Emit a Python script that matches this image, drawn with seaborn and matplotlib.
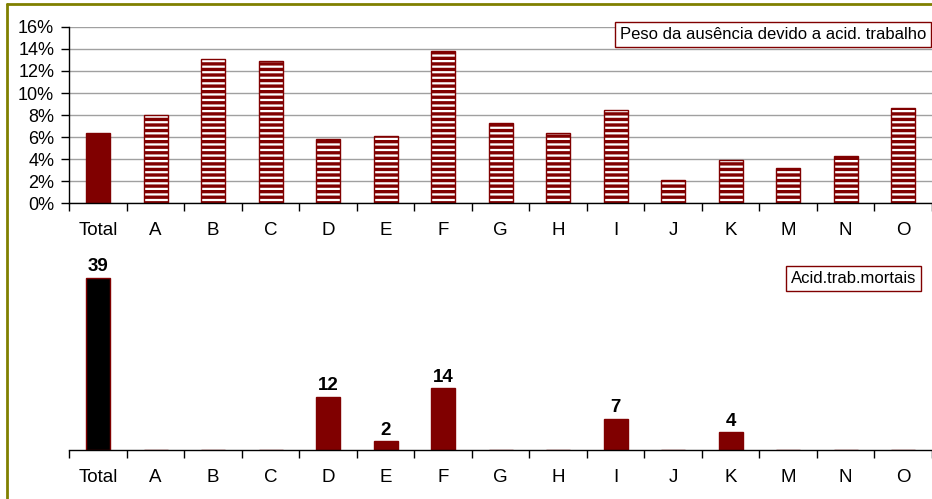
import pandas as pd
import matplotlib.pyplot as plt
import seaborn as sns
from matplotlib.lines import Line2D
from matplotlib.ticker import PercentFormatter, FixedLocator

categories = ["Total", "A", "B", "C", "D", "E", "F", "G", "H", "I", "J", "K", "M", "N", "O"]
peso_ausencia = [6.4, 8.0, 13.1, 12.9, 5.8, 6.1, 13.8, 7.3, 6.4, 8.5, 2.1, 3.9, 3.2, 4.3, 8.6]
acid_mortais = [39, 0, 0, 0, 12, 2, 14, 0, 0, 7, 0, 4, 0, 0, 0]

DARK_RED = "#800000"
OLIVE = "#808000"

sns.set_style("white")
plt.rcParams["font.family"] = ["Liberation Sans", "DejaVu Sans"]
plt.rcParams["hatch.linewidth"] = 2.4
plt.rcParams["text.color"] = "black"
plt.rcParams["xtick.color"] = "black"
plt.rcParams["ytick.color"] = "black"

df = pd.DataFrame({"cat": categories, "peso": peso_ausencia, "mortos": acid_mortais})

fig = plt.figure(figsize=(9.32, 4.99), dpi=100)


def category_ticks(ax):
    # tick marks between categories, labels centred under the bars
    n = len(categories)
    ax.set_xlim(-0.5, n - 0.5)
    ax.xaxis.set_major_locator(FixedLocator([i - 0.5 for i in range(n + 1)]))
    ax.set_xticklabels([])
    ax.xaxis.set_minor_locator(FixedLocator(range(n)))
    ax.set_xticklabels(categories, minor=True)
    ax.tick_params(axis="x", which="major", direction="out", length=6, width=1, bottom=True)
    ax.tick_params(axis="x", which="minor", length=0, labelsize=13.5, pad=13.5)
    ax.set_xlabel("")
    ax.set_ylabel("")


# --- top chart: weight of absence due to work accidents
ax1 = fig.add_axes([0.0745, 0.593, 0.9255, 0.353])
top_colors = ["white"] * len(categories)
top_colors[0] = DARK_RED
sns.barplot(data=df, x="cat", y="peso", hue="cat", palette=top_colors, order=categories,
            width=0.42, saturation=1, edgecolor=DARK_RED, linewidth=1.0, legend=False, ax=ax1)
for i, bar in enumerate(ax1.patches):
    if i > 0:
        bar.set_hatch("---")
        bar.set_edgecolor(DARK_RED)
ax1.set_ylim(0, 16)
ax1.set_yticks(range(0, 17, 2))
ax1.yaxis.set_major_formatter(PercentFormatter(decimals=0))
ax1.yaxis.grid(True, color="#a0a0a0", linewidth=1.0)
ax1.set_axisbelow(True)
for s in ["top", "right"]:
    ax1.spines[s].set_visible(False)
for s in ["left", "bottom"]:
    ax1.spines[s].set_color("black")
    ax1.spines[s].set_linewidth(1.0)
category_ticks(ax1)
ax1.tick_params(axis="y", direction="out", length=6, width=1, left=True, labelsize=13, pad=5)
ax1.text(0.9935, 0.955, "Peso da ausência devido a acid. trabalho", transform=ax1.transAxes,
         ha="right", va="center", fontsize=12,
         bbox=dict(boxstyle="square,pad=0.3", facecolor="white", edgecolor=DARK_RED, linewidth=1))

# --- bottom chart: fatal work accidents
ax2 = fig.add_axes([0.0745, 0.098, 0.9255, 0.40])
bot_colors = [DARK_RED] * len(categories)
bot_colors[0] = "black"
sns.barplot(data=df, x="cat", y="mortos", hue="cat", palette=bot_colors, order=categories,
            width=0.42, saturation=1, edgecolor=DARK_RED, linewidth=1.0, legend=False, ax=ax2)
ax2.set_ylim(0, 45.3)
ax2.set_yticks([])
for s in ["top", "right", "left"]:
    ax2.spines[s].set_visible(False)
ax2.spines["bottom"].set_color("black")
ax2.spines["bottom"].set_linewidth(1.0)
category_ticks(ax2)
for bar, val in zip(ax2.patches, acid_mortais):
    if val > 0:
        ax2.annotate(str(val), (bar.get_x() + bar.get_width() / 2, bar.get_height()),
                     xytext=(0, 2), textcoords="offset points", ha="center", va="bottom",
                     fontsize=13.5, fontweight="bold")
ax2.text(0.982, 0.86, "Acid.trab.mortais", transform=ax2.transAxes,
         ha="right", va="center", fontsize=12,
         bbox=dict(boxstyle="square,pad=0.3", facecolor="white", edgecolor=DARK_RED, linewidth=1))

# olive frame (top and left edges visible)
fig.add_artist(Line2D([0.008, 1.0], [0.991, 0.991], color=OLIVE, linewidth=2, transform=fig.transFigure))
fig.add_artist(Line2D([0.008, 0.008], [0.0, 0.991], color=OLIVE, linewidth=2, transform=fig.transFigure))

fig.savefig("out.png", dpi=100)
